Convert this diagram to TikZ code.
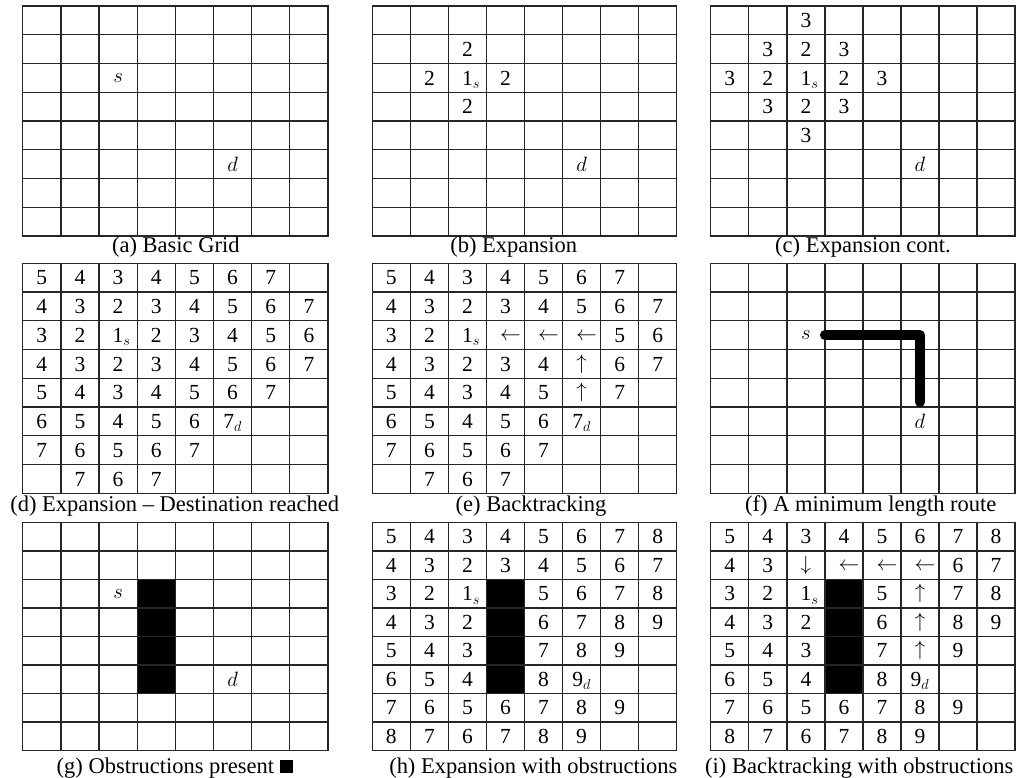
\documentclass[tikz,border=0pt]{standalone}
\usepackage{fontspec}
\setmainfont{Liberation Serif}
\tikzset{
  gl/.style={line width=1.3pt, draw=black!85, line cap=rect},
  num/.style={font=\fontsize{21.5}{25}\selectfont, inner sep=0pt, anchor=base},
  letter/.style={font=\fontsize{21}{25}\selectfont, inner sep=0pt, anchor=center},
  captxt/.style={font=\fontsize{22.5}{26}\selectfont, inner sep=0pt, anchor=base},
  obst/.style={fill=black},
  route/.style={line width=10pt, line cap=round, line join=round}
}
\def\skipmark{x}
\newcommand\la{\kern10pt\raisebox{2pt}{$\leftarrow$}}
\newcommand\ua{\raisebox{2pt}{$\uparrow$}}
\newcommand\da{\raisebox{2pt}{$\downarrow$}}
\newcommand\one{1\rlap{$_s$}}
\newcommand\gridlines{%
  \foreach \i in {0,...,8}{%
    \draw[gl] ({\i*\cw},0) -- ({\i*\cw},{8*\ch});
    \draw[gl] (0,{\i*\ch}) -- ({8*\cw},{\i*\ch});
  }}
\newcommand\crow[3]{%
  \foreach \t [count=\c from 0] in {#3}{%
    \ifx\t\skipmark\else
      \node[num] (#1-\c-#2) at ({(\c+0.5)*\cw},{(#2+0.5)*\ch+7.2}) {\t};
    \fi}}
\newcommand\lett[4]{\node[letter] (#1) at ({(#2+0.5)*\cw},{(#3+0.5)*\ch}) {#4};}
\newcommand\obstruction{\fill[obst] ({3*\cw},{2*\ch}) rectangle ({4*\cw},{6*\ch});}
\begin{document}
\begin{tikzpicture}[x=1pt,y=-1pt]
\useasboundingbox (0,0) rectangle (1023,778);

% (a)
\begin{scope}[shift={(22.7,6)}]
  \def\cw{38.16}\def\ch{28.75}
  \gridlines
  \lett{a-s}{2}{2}{$s$}
  \lett{a-d}{5}{5}{$d$}
\end{scope}
\node[captxt] (cap-a) at (175.8,252.7) {(a) Basic Grid};

% (b)
\begin{scope}[shift={(372.3,6)}]
  \def\cw{38.05}\def\ch{28.75}
  \gridlines
  \crow{b}{1}{x,x,2}
  \crow{b}{2}{x,2,\one,2}
  \crow{b}{3}{x,x,2}
  \lett{b-d}{5}{5}{$d$}
\end{scope}
\node[captxt] (cap-b) at (513.7,252.7) {(b) Expansion};

% (c)
\begin{scope}[shift={(710.8,6)}]
  \def\cw{38.03}\def\ch{28.75}
  \gridlines
  \crow{c}{0}{x,x,3}
  \crow{c}{1}{x,3,2,3}
  \crow{c}{2}{3,2,\one,2,3}
  \crow{c}{3}{x,3,2,3}
  \crow{c}{4}{x,x,3}
  \lett{c-d}{5}{5}{$d$}
\end{scope}
\node[captxt] (cap-c) at (863,252.7) {(c) Expansion cont.};

% (d)
\begin{scope}[shift={(22.7,263.3)}]
  \def\cw{38.16}\def\ch{28.75}
  \gridlines
  \crow{d}{0}{5,4,3,4,5,6,7,x}
  \crow{d}{1}{4,3,2,3,4,5,6,7}
  \crow{d}{2}{3,2,\one,2,3,4,5,6}
  \crow{d}{3}{4,3,2,3,4,5,6,7}
  \crow{d}{4}{5,4,3,4,5,6,7,x}
  \crow{d}{5}{6,5,4,5,6,7$_d$,x,x}
  \crow{d}{6}{7,6,5,6,7,x,x,x}
  \crow{d}{7}{x,7,6,7,x,x,x,x}
\end{scope}
\node[captxt] (cap-d) at (174.7,511.7) {(d) Expansion – Destination reached};

% (e)
\begin{scope}[shift={(372.3,263.3)}]
  \def\cw{38.05}\def\ch{28.75}
  \gridlines
  \crow{e}{0}{5,4,3,4,5,6,7,x}
  \crow{e}{1}{4,3,2,3,4,5,6,7}
  \crow{e}{2}{3,2,\one,\la,\la,\la,5,6}
  \crow{e}{3}{4,3,2,3,4,\ua,6,7}
  \crow{e}{4}{5,4,3,4,5,\ua,7,x}
  \crow{e}{5}{6,5,4,5,6,7$_d$,x,x}
  \crow{e}{6}{7,6,5,6,7,x,x,x}
  \crow{e}{7}{x,7,6,7,x,x,x,x}
\end{scope}
\node[captxt] (cap-e) at (531,511.7) {(e) Backtracking};

% (f)
\begin{scope}[shift={(710.8,263.3)}]
  \def\cw{38.03}\def\ch{28.75}
  \gridlines
  \lett{f-s}{2}{2}{$s$}
  \lett{f-d}{5}{5}{$d$}
  \coordinate (f-start) at ({3*\cw},{2.5*\ch});
  \coordinate (f-corner) at ({5.5*\cw},{2.5*\ch});
  \coordinate (f-end) at ({5.5*\cw},{5*\ch-5});
  \draw[route] (f-start) -- (f-corner) -- (f-end);
\end{scope}
\node[captxt] (cap-f) at (870.8,511.7) {(f) A minimum length route};

% (g)
\begin{scope}[shift={(22.7,522.5)}]
  \def\cw{38.16}\def\ch{28.5}
  \obstruction
  \gridlines
  \lett{g-s}{2}{2}{$s$}
  \lett{g-d}{5}{5}{$d$}
\end{scope}
\node[captxt] (cap-g) at (175,773) {(g) Obstructions present \rule{13.5pt}{13.5pt}};

% (h)
\begin{scope}[shift={(372.3,522.5)}]
  \def\cw{38.05}\def\ch{28.5}
  \obstruction
  \gridlines
  \crow{h}{0}{5,4,3,4,5,6,7,8}
  \crow{h}{1}{4,3,2,3,4,5,6,7}
  \crow{h}{2}{3,2,\one,x,5,6,7,8}
  \crow{h}{3}{4,3,2,x,6,7,8,9}
  \crow{h}{4}{5,4,3,x,7,8,9,x}
  \crow{h}{5}{6,5,4,x,8,9$_d$,x,x}
  \crow{h}{6}{7,6,5,6,7,8,9,x}
  \crow{h}{7}{8,7,6,7,8,9,x,x}
\end{scope}
\node[captxt] (cap-h) at (533.3,773) {(h) Expansion with obstructions};

% (i)
\begin{scope}[shift={(710.8,522.5)}]
  \def\cw{38.03}\def\ch{28.5}
  \obstruction
  \gridlines
  \crow{i}{0}{5,4,3,4,5,6,7,8}
  \crow{i}{1}{4,3,\da,\la,\la,\la,6,7}
  \crow{i}{2}{3,2,\one,x,5,\ua,7,8}
  \crow{i}{3}{4,3,2,x,6,\ua,8,9}
  \crow{i}{4}{5,4,3,x,7,\ua,9,x}
  \crow{i}{5}{6,5,4,x,8,9$_d$,x,x}
  \crow{i}{6}{7,6,5,6,7,8,9,x}
  \crow{i}{7}{8,7,6,7,8,9,x,x}
\end{scope}
\node[captxt] (cap-i) at (859.2,773) {(i) Backtracking with obstructions};
\end{tikzpicture}
\end{document}
